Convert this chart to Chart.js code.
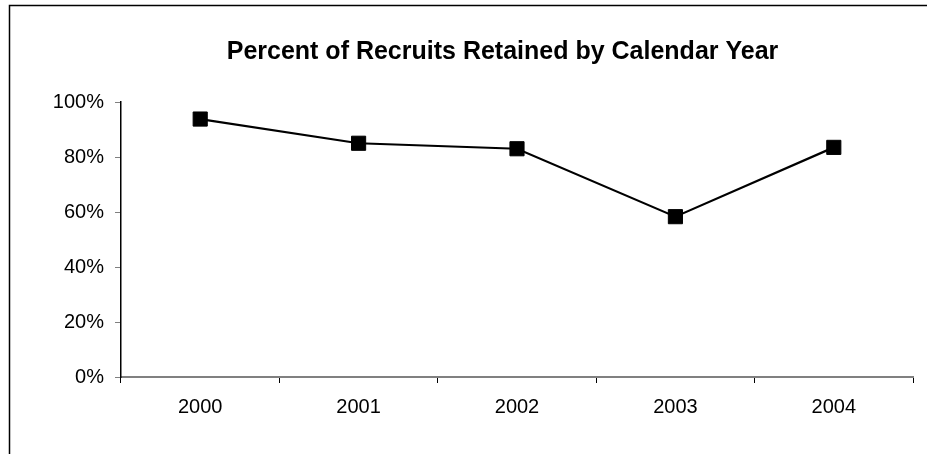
<!DOCTYPE html>
<html>
<head>
<meta charset="utf-8">
<script src="https://cdn.jsdelivr.net/npm/chart.js@4.4.1/dist/chart.umd.min.js"></script>
<style>
  html, body { margin: 0; padding: 0; background: #fff; }
  #wrap { position: relative; width: 927px; height: 454px; }
</style>
</head>
<body>
<div id="wrap"><canvas id="chart-retencion" width="927" height="454"></canvas></div>
<script>
// Retención de reclutas por año calendario
const anios      = ['2000', '2001', '2002', '2003', '2004'];
const retenidos  = [93.8, 85.0, 83.0, 58.3, 83.5];
const ticksY     = [0, 20, 40, 60, 80, 100];
const titulo     = 'Percent of Recruits Retained by Calendar Year';

const FUENTE = "'Liberation Sans', Arial, sans-serif";

// Marco (bordes superior e izquierdo) y título centrado sobre el marco
const marco = {
  id: 'marco',
  afterDraw(chart) {
    const ctx = chart.ctx;
    ctx.save();
    ctx.strokeStyle = '#000';
    ctx.lineWidth = 1.5;
    ctx.beginPath();
    ctx.moveTo(9.5, chart.height);
    ctx.lineTo(9.5, 5.5);
    ctx.lineTo(chart.width, 5.5);
    ctx.stroke();

    ctx.fillStyle = '#000';
    ctx.font = 'bold 25px ' + FUENTE;
    ctx.textAlign = 'center';
    ctx.textBaseline = 'alphabetic';
    ctx.fillText(titulo, 502.5, 59);
    ctx.restore();
  }
};

new Chart(document.getElementById('chart-retencion'), {
  type: 'line',
  data: {
    labels: anios,
    datasets: [{
      label: 'Retenidos',
      data: retenidos,
      borderColor: '#000',
      borderWidth: 2.2,
      tension: 0,
      pointStyle: 'rect',
      pointRadius: 10,
      pointBackgroundColor: '#000',
      pointBorderColor: '#000',
      pointBorderWidth: 1
    }]
  },
  options: {
    responsive: false,
    animation: false,
    layout: { padding: { top: 102, right: 14, bottom: 0, left: 0 } },
    plugins: {
      legend: { display: false },
      tooltip: { enabled: false },
      title: { display: false }
    },
    scales: {
      x: {
        offset: true,
        afterFit: s => { s.height = 77; },
        grid: { display: true, drawOnChartArea: false, offset: true, tickLength: 6, tickColor: '#000' },
        border: { display: true, color: '#808080', width: 2 },
        ticks: { color: '#000', padding: 12, font: { family: FUENTE, size: 20 } }
      },
      y: {
        min: 0,
        max: 100,
        afterFit: s => { s.width = 121; },
        afterBuildTicks: s => { s.ticks = ticksY.map(v => ({ value: v })); },
        grid: { display: true, drawOnChartArea: false, tickLength: 6, tickColor: '#808080' },
        border: { display: true, color: '#000', width: 1.5 },
        ticks: {
          color: '#000',
          padding: 11,
          font: { family: FUENTE, size: 20 },
          callback: v => v + '%'
        }
      }
    }
  },
  plugins: [marco]
});
</script>
</body>
</html>
